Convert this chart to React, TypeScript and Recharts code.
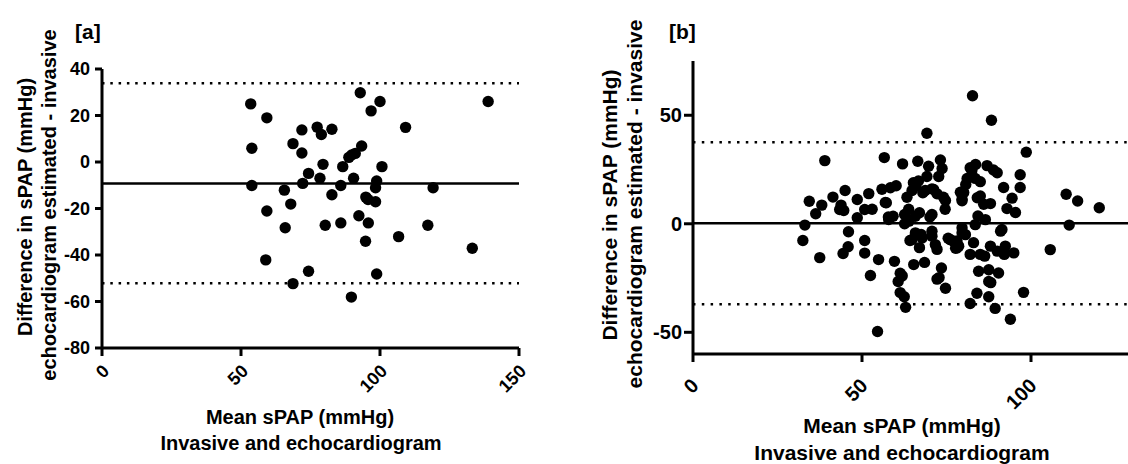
import React from "react";
import {
  ScatterChart,
  Scatter,
  XAxis,
  YAxis,
  ReferenceLine,
} from "recharts";

// panel [a]: mean sPAP vs difference
const panelA: number[][] = [
  [53.5, 25.0], [53.9, 5.9], [53.9, -10.1], [59.3, 19.0], [59.3, -21.1], [58.9, -42.1],
  [65.6, -12.1], [65.9, -28.3], [67.9, -18.1], [68.7, 7.9], [68.7, -52.3], [71.9, 13.8],
  [71.9, 3.9], [72.2, -9.2], [74.3, -4.9], [74.3, -47.0], [77.4, 15.0], [78.9, 11.8],
  [78.4, -7.0], [79.5, -1.0], [80.3, -27.2], [82.7, 14.1], [82.7, -14.1], [85.9, -10.1],
  [85.9, -26.2], [86.6, -2.0], [88.8, 2.0], [89.7, -58.1], [90.5, -7.0], [91.1, 3.7],
  [89.8, 3.0], [92.9, 29.8], [93.4, 6.9], [92.4, -23.1], [94.9, -15.1], [95.7, -16.1],
  [94.8, -34.1], [95.8, -26.2], [96.8, 22.0], [98.4, -17.1], [98.4, -11.1], [98.8, -8.2],
  [98.8, -48.2], [100.0, 26.0], [100.7, -2.0], [109.2, 14.9], [106.7, -32.1], [117.2, -27.2],
  [119.1, -11.1], [133.2, -37.1], [138.9, 26.0],
];
const aBias = -9.2;
const aLimits = [33.9, -52.2];
const aXTicks = [0, 50, 100, 150];
const aYTicks = [-80, -60, -40, -20, 0, 20, 40];

// panel [b]
const panelB: number[][] = [
  [32.5, -7.7], [33.1, -0.6], [34.4, 10.4], [36.3, 4.6], [37.5, -15.6], [38.1, 8.6],
  [39.0, 29.1], [41.4, 12.3], [43.4, 6.6], [43.8, 8.6], [45.0, 15.3], [44.6, 6.1],
  [46.0, -3.7], [45.9, -10.6], [44.4, -13.7], [48.6, 11.2], [48.6, 2.8],
  [50.8, 6.6], [50.8, -7.7], [50.8, -13.5], [52.0, 13.9], [52.5, -23.8], [54.6, -49.6],
  [54.9, -16.5], [56.6, 30.5], [55.9, 15.9], [57.2, 9.7], [58.4, 16.6], [57.8, 3.1],
  [59.2, 3.5], [60.1, 17.5], [59.6, -17.3], [53.0, 6.7], [56.9, 9.8], [57.9, 2.0],
  [61.3, -22.8], [61.9, -24.0], [60.7, -26.6], [61.3, -31.7], [62.5, -33.6], [62.9, -38.5],
  [62.0, 27.6], [62.6, 4.3], [62.6, 0.0], [63.3, 12.2], [63.8, 6.7], [63.9, 1.2],
  [64.2, -7.7], [64.8, -7.3], [65.3, -18.8], [65.8, -4.2], [65.9, 17.3], [65.2, 18.9],
  [64.8, 15.3], [65.8, 3.5], [66.5, 28.8], [66.7, 19.7], [67.0, 5.1], [67.5, -4.9],
  [67.0, -11.0], [67.8, -6.5], [68.0, 14.3], [68.7, 15.3], [69.2, 41.7], [68.5, -17.8],
  [69.7, 26.5], [69.2, 21.8], [70.1, 3.1], [70.7, -3.4], [70.7, -5.7], [70.7, 16.1],
  [70.7, 4.3], [71.2, 15.8], [71.7, -9.6], [72.2, -11.8], [73.2, 29.4], [73.7, 25.5],
  [72.7, 21.8], [72.2, 13.8], [74.1, 12.2], [74.6, 6.7], [74.7, 10.7], [73.5, -20.4],
  [72.2, -25.5], [72.8, -24.8], [74.7, -29.7], [75.5, -6.7], [76.1, -7.3], [77.1, -8.0],
  [77.7, -11.3], [78.1, -11.1], [78.1, -7.9], [78.6, -10.3], [79.1, 14.5], [79.6, 10.6],
  [79.6, -4.2], [79.6, -1.9], [79.6, 11.3], [80.1, 14.4], [80.6, -5.0], [80.7, 18.1],
  [81.1, 20.9], [82.0, 25.8], [82.5, 24.5], [82.7, 59.0], [83.0, -8.7], [82.0, -14.1],
  [82.0, -36.7], [83.5, 20.9], [83.6, 27.3], [83.5, -0.4], [84.3, 3.6], [84.1, 12.0],
  [84.0, -32.0], [84.5, -21.9], [85.0, 19.4], [85.0, 12.8], [85.0, -14.1], [86.0, 9.0],
  [86.5, 1.9], [86.3, -14.9], [87.0, 26.8], [87.5, -21.2], [87.5, -26.6], [87.5, -33.6],
  [88.3, 47.7], [88.9, 24.8], [88.0, 9.3], [88.0, -10.3], [89.4, -39.0], [88.1, -27.1],
  [90.0, -12.6], [90.0, 23.5], [90.4, -22.7], [91.0, -3.4], [91.4, -2.6], [91.9, 16.7],
  [92.4, -10.3], [92.1, -14.1], [92.9, 7.0], [93.9, -44.0], [94.4, 11.8], [94.9, -13.4],
  [95.4, 5.2], [96.8, 16.7], [96.8, 22.6], [97.8, -31.6], [98.6, 33.0], [105.7, -11.9],
  [110.4, 13.6], [111.3, -0.6], [113.8, 10.5], [120.2, 7.4],
];
const bBias = 0.2;
const bLimits = [37.6, -37.1];
const bXTicks = [0, 50, 100];
const bYTicks = [-50, 0, 50];

const FONT = "'Liberation Sans', Arial, sans-serif";
const toPts = (arr: number[][]) => arr.map(([x, y]) => ({ x, y }));

const Dot = (p: any) => <circle cx={p.cx} cy={p.cy} r={5.7} fill="#000" />;

const RotTick = ({ x, y, payload, dx, dy, fs }: any) => {
  const tx = x + dx;
  const ty = y + dy;
  return (
    <text
      x={tx}
      y={ty}
      transform={`rotate(-45 ${tx} ${ty})`}
      textAnchor="end"
      dominantBaseline="central"
      fill="#000"
      fontSize={fs}
      fontWeight="bold"
      fontFamily={FONT}
    >
      {payload.value}
    </text>
  );
};

const axisStyle = { stroke: "#000", strokeWidth: 3 };

export default function App() {
  return (
    <div
      style={{
        position: "fixed",
        left: 0,
        top: 0,
        width: 1128,
        height: 464,
        overflow: "hidden",
        background: "#fff",
      }}
    >
      <div style={{ position: "absolute", left: 0, top: 0 }}>
        <ScatterChart
          width={560}
          height={464}
          margin={{ top: 69, right: 41, left: 0, bottom: 0 }}
        >
          <XAxis
            type="number"
            dataKey="x"
            domain={[0, 150]}
            ticks={aXTicks}
            height={116}
            axisLine={axisStyle}
            tickLine={axisStyle}
            tickSize={8}
            interval={0}
            tick={(p: any) => <RotTick {...p} dx={4} dy={10} fs={18} />}
          />
          <YAxis
            type="number"
            dataKey="y"
            domain={[-80, 40]}
            ticks={aYTicks}
            width={102}
            axisLine={axisStyle}
            tickLine={axisStyle}
            tickSize={7}
            tickMargin={5}
            interval={0}
            tick={{ fill: "#000", fontSize: 18, fontWeight: "bold", fontFamily: FONT }}
          />
          <ReferenceLine y={aBias} stroke="#000" strokeWidth={2.5} />
          {aLimits.map((v) => (
            <ReferenceLine key={v} y={v} stroke="#000" strokeWidth={2.5} strokeDasharray="2.5 5.8" />
          ))}
          <Scatter data={toPts(panelA)} shape={Dot} isAnimationActive={false} />
        </ScatterChart>
      </div>

      <div style={{ position: "absolute", left: 560, top: 0 }}>
        <ScatterChart
          width={640}
          height={464}
          margin={{ top: 61, right: 0, left: 0, bottom: 0 }}
        >
          <XAxis
            type="number"
            dataKey="x"
            domain={[0, 150]}
            ticks={bXTicks}
            height={110}
            axisLine={axisStyle}
            tickLine={axisStyle}
            tickSize={8}
            interval={0}
            tick={(p: any) => <RotTick {...p} dx={2} dy={18} fs={20} />}
          />
          <YAxis
            type="number"
            dataKey="y"
            domain={[-60, 75]}
            ticks={bYTicks}
            width={133}
            axisLine={axisStyle}
            tickLine={axisStyle}
            tickSize={9}
            tickMargin={2}
            interval={0}
            tick={{ fill: "#000", fontSize: 20, fontWeight: "bold", fontFamily: FONT }}
          />
          <ReferenceLine y={bBias} stroke="#000" strokeWidth={2.5} />
          {bLimits.map((v) => (
            <ReferenceLine key={v} y={v} stroke="#000" strokeWidth={2.5} strokeDasharray="2.5 6.3" />
          ))}
          <Scatter data={toPts(panelB)} shape={Dot} isAnimationActive={false} />
        </ScatterChart>
      </div>

      {/* titles and panel letters */}
      <svg
        width={1128}
        height={464}
        style={{ position: "absolute", left: 0, top: 0, pointerEvents: "none" }}
        fontFamily={FONT}
        fontWeight="bold"
        fill="#000"
      >
        <text x={75} y={39} fontSize={21}>[a]</text>
        <text x={669} y={39} fontSize={21}>[b]</text>

        <text x={25} y={207} fontSize={20} textAnchor="middle" dominantBaseline="central" transform="rotate(-90 25 207)">
          Difference in sPAP (mmHg)
        </text>
        <text x={49} y={205} fontSize={20} textAnchor="middle" dominantBaseline="central" transform="rotate(-90 49 205)">
          echocardiogram estimated - invasive
        </text>
        <text x={300} y={417} fontSize={20} textAnchor="middle" dominantBaseline="central">
          Mean sPAP (mmHg)
        </text>
        <text x={301} y={443} fontSize={20} textAnchor="middle" dominantBaseline="central">
          Invasive and echocardiogram
        </text>

        <text x={609} y={205} fontSize={21} textAnchor="middle" dominantBaseline="central" transform="rotate(-90 609 205)">
          Difference in sPAP (mmHg)
        </text>
        <text x={634} y={204} fontSize={21} textAnchor="middle" dominantBaseline="central" transform="rotate(-90 634 204)">
          echocardiogram estimated - invasive
        </text>
        <text x={902} y={425} fontSize={21} textAnchor="middle" dominantBaseline="central">
          Mean sPAP (mmHg)
        </text>
        <text x={902} y={452} fontSize={21} textAnchor="middle" dominantBaseline="central">
          Invasive and echocardiogram
        </text>
      </svg>
    </div>
  );
}
